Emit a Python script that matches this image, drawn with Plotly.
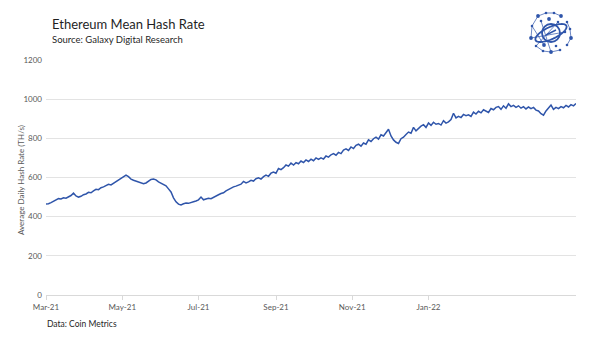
import numpy as np
import pandas as pd
import plotly.graph_objects as go

# ---- data (average daily hash rate, TH/s, sampled every 2 days from 2021-03-01) ----
start_date = "2021-03-01"
step_days = 2
hash_rate = [
    465, 466, 472, 478, 486, 492, 490, 496, 494, 500,
    508, 520, 506, 500, 504, 512, 516, 524, 522, 532,
    540, 538, 548, 552, 558, 565, 562, 570, 578, 584,
    592, 600, 612, 604, 592, 586, 582, 578, 574, 568,
    572, 580, 590, 592, 588, 578, 570, 566, 558, 542,
    526, 496, 476, 464, 460, 466, 470, 468, 474, 476,
    480, 486, 500, 486, 490, 494, 492, 500, 504, 512,
    518, 522, 532, 540, 548, 552, 556, 560, 566, 580,
    572, 578, 586, 582, 594, 598, 592, 604, 612, 606,
    622, 628, 622, 646, 640, 650, 664, 658, 674, 664,
    676, 670, 684, 676, 690, 682, 694, 686, 700, 692,
    700, 694, 710, 704, 716, 722, 714, 728, 722, 740,
    746, 738, 756, 748, 764, 770, 760, 776, 770, 792,
    784, 798, 806, 796, 818, 812, 830, 846, 812, 792,
    780, 774, 798, 806, 820, 832, 826, 856, 838, 852,
    862, 870, 856, 878, 866, 882, 872, 876, 868, 890,
    878, 884, 896, 928, 904, 912, 906, 922, 916, 920,
    912, 934, 924, 938, 930, 946, 940, 932, 952, 946,
    958, 962, 948, 966, 954, 976, 962, 968, 958, 966,
    954, 962, 950, 960, 952, 958, 944, 940, 926, 918,
    940, 954, 970, 948, 958, 952, 962, 956, 968, 960,
    972, 966, 978,
]
tick_dates = ["2021-03-01", "2021-05-01", "2021-07-01", "2021-09-01", "2021-11-01", "2022-01-01"]
tick_labels = ["Mar-21", "May-21", "Jul-21", "Sep-21", "Nov-21", "Jan-22"]
y_ticks = [0, 200, 400, 600, 800, 1000, 1200]

dates = pd.date_range(start_date, periods=len(hash_rate), freq=f"{step_days}D")

BLUE = "#2F55AA"
FONT = "Lato"

fig = go.Figure()
fig.add_trace(go.Scatter(x=dates, y=hash_rate, mode="lines",
                         line=dict(color=BLUE, width=1.5), showlegend=False))

L, R, T, B = 46, 24, 60, 48
W, H = 600, 343
pw, ph = W - L - R, H - T - B

def px(x):
    return (x - L) / pw

def py(y):
    return (H - B - y) / ph

fig.update_layout(
    width=W, height=H,
    margin=dict(l=L, r=R, t=T, b=B),
    paper_bgcolor="white", plot_bgcolor="white",
    font=dict(family=FONT, color="#595959", size=8),
    xaxis=dict(
        type="date",
        range=[dates[0], dates[-1]],
        tickvals=tick_dates, ticktext=tick_labels,
        showgrid=False, showline=True, linecolor="#d9d9d9", linewidth=1,
        ticks="outside", ticklen=4, tickcolor="#d9d9d9",
        tickfont=dict(size=8, color="#595959"),
        zeroline=False,
    ),
    yaxis=dict(
        range=[0, 1200], tickvals=y_ticks,
        showgrid=True, gridcolor="#e3e3e3", gridwidth=1,
        zeroline=False, showline=False,
        tickfont=dict(size=8, color="#595959"),
        ticks="", ticklabelstandoff=3,
    ),
)

annotations = [
    dict(text="Ethereum Mean Hash Rate", x=px(50), y=py(24), xanchor="left", yanchor="middle",
         font=dict(size=13, color="#1f1f1f", family=FONT)),
    dict(text="Source: Galaxy Digital Research", x=px(50), y=py(39), xanchor="left", yanchor="middle",
         font=dict(size=9.5, color="#1f1f1f", family=FONT)),
    dict(text="Average Daily Hash Rate (TH/s)", x=px(21), y=py(180), xanchor="center", yanchor="middle",
         textangle=-90, font=dict(size=8, color="#595959", family=FONT)),
    dict(text="Data: Coin Metrics", x=px(45), y=py(324), xanchor="left", yanchor="middle",
         font=dict(size=8.5, color="#1f1f1f", family=FONT)),
]
for a in annotations:
    a.update(xref="paper", yref="paper", showarrow=False)
fig.update_layout(annotations=annotations)

# ---- logo (decorative) ----
shapes = []
cx, cy = 551, 33

def circ(x, y, r, fill=True, w=1.5):
    shapes.append(dict(type="circle", xref="paper", yref="paper",
                       x0=px(x - r), x1=px(x + r), y0=py(y + r), y1=py(y - r),
                       line=dict(color=BLUE, width=0 if fill else w),
                       fillcolor=BLUE if fill else "rgba(0,0,0,0)"))

def seg(x0, y0, x1, y1, w=0.7):
    shapes.append(dict(type="line", xref="paper", yref="paper",
                       x0=px(x0), y0=py(y0), x1=px(x1), y1=py(y1),
                       line=dict(color=BLUE, width=w)))

# planet
circ(cx, cy, 9, fill=False, w=1.8)
# tilted ring
t = np.linspace(0, 2 * np.pi, 60)
ang = np.deg2rad(-25)
ex, ey = 17 * np.cos(t), 6 * np.sin(t)
rx = cx + ex * np.cos(ang) - ey * np.sin(ang)
ry = cy + ex * np.sin(ang) + ey * np.cos(ang)
path = "M " + " L ".join(f"{px(a):.5f},{py(b):.5f}" for a, b in zip(rx, ry)) + " Z"
shapes.append(dict(type="path", xref="paper", yref="paper", path=path,
                   line=dict(color=BLUE, width=1.8)))
seg(cx - 5, cy + 2, cx + 5, cy - 3, w=1.5)
# network nodes
nodes = [(538, 16), (546, 13), (554, 13), (561, 16), (567, 22), (570, 29),
         (571, 38), (567, 45), (560, 50), (551, 52), (543, 51), (536, 46),
         (531, 38), (532, 26), (541, 21), (549, 19), (558, 22), (565, 32),
         (544, 45), (556, 46)]
for i in range(len(nodes)):
    a, b = nodes[i], nodes[(i + 1) % 14] if i < 14 else nodes[i - 5]
    if i % 4 != 3:
        seg(a[0], a[1], b[0], b[1])
for i, (x, y) in enumerate(nodes):
    circ(x, y, 1.3 if i % 3 else 1.9)
fig.update_layout(shapes=shapes)

fig.write_html("out.html")
